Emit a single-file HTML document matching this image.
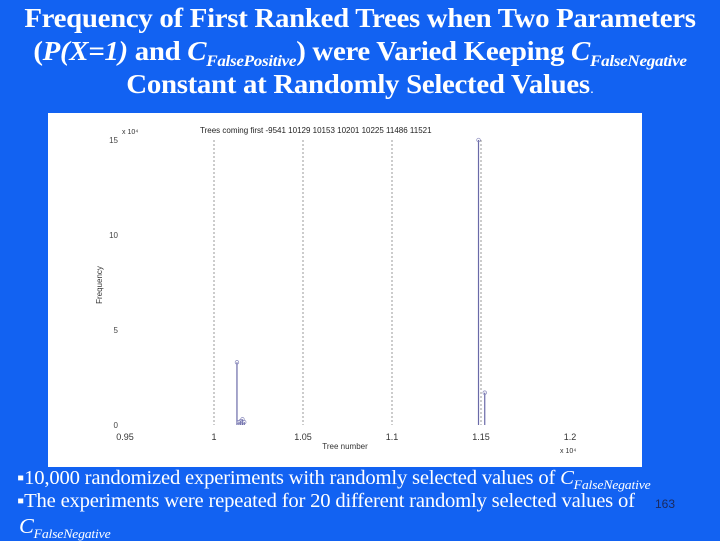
<!DOCTYPE html>
<html><head><meta charset="utf-8">
<style>
body{margin:0;width:720px;height:540px;background:#1262f2;overflow:hidden;position:relative;font-family:"Liberation Serif",serif;color:#fff}
.title{position:absolute;left:0;top:2px;width:720px;text-align:center;font-weight:bold;font-size:27px;line-height:33px;white-space:nowrap;letter-spacing:-0.3px;transform:scaleX(1.07);transform-origin:360px 0}
.title sub{font-size:16px;font-style:italic;vertical-align:-6px;line-height:0}
.b{position:absolute;left:17px;font-size:19.5px;white-space:nowrap;letter-spacing:-0.2px;transform:scaleX(1.06);transform-origin:0 0}
.b sub{font-size:13px;font-style:italic;vertical-align:-5px;line-height:0}
</style></head><body>
<div class="title">Frequency of First Ranked Trees when Two Parameters<br>(<i>P(X=1)</i> and <i>C</i><sub>FalsePositive</sub>) were Varied Keeping <i>C</i><sub>FalseNegative</sub><br>Constant at Randomly Selected Values<span style="font-weight:normal;font-family:'Liberation Sans';font-size:14px">.</span></div>
<svg style="position:absolute;left:48px;top:113px" width="594" height="354" viewBox="48 113 594 354" id="chart" font-family="Liberation Sans, sans-serif">
<rect x="48" y="113" width="594" height="354" fill="#fff"/>
</svg>
<div class="b" style="top:468px">&#9642;10,000 randomized experiments with randomly selected values of <i>C</i><sub>FalseNegative</sub></div>
<div class="b" style="top:491px">&#9642;The experiments were repeated for 20 different randomly selected values of</div>
<div class="b" style="top:514px;left:19px"><i style="font-size:21px">C</i><sub>FalseNegative</sub></div>
<div style="position:absolute;left:655px;top:497px;font-family:'Liberation Sans';font-size:12px;color:#1a2a60">163</div>
<script>
const xTicks=[0.95,1,1.05,1.1,1.15,1.2];
const xTickLabels=["0.95","1","1.05","1.1","1.15","1.2"];
const yTicks=[0,5,10,15];
const yTickLabels=["0","5","10","15"];
const firstTrees=[9541,10129,10153,10201,10225,11486,11521];
const treeNums=[10129,10140,10150,10160,10170,11486,11521];
const freqs=[3.3,0.15,0.2,0.3,0.15,15,1.7];
const svg=document.getElementById('chart');
const NS='http://www.w3.org/2000/svg';
const xs=v=>125+(v-0.95)/0.05*89;
const ys=v=>425-v/15*285;
function mk(t,a,txt){const e=document.createElementNS(NS,t);for(const k in a)e.setAttribute(k,a[k]);if(txt!==undefined)e.textContent=txt;svg.appendChild(e);return e;}
xTicks.forEach((v,i)=>{
  if(v>0.95&&v<1.2){const g=mk('line',{x1:xs(v),x2:xs(v),y1:ys(15),y2:ys(0),stroke:'#999','stroke-dasharray':'2,2','stroke-width':1});
  
  }
  const t=mk('text',{x:xs(v),y:440,'font-size':9,'text-anchor':'middle',fill:'#333'},xTickLabels[i]);
  
  
});
yTicks.forEach((v,i)=>{
  const t=mk('text',{x:118,y:ys(v)+3,'font-size':8,'text-anchor':'end',fill:'#444'},yTickLabels[i]);
  
  
});
treeNums.forEach((n,i)=>{
  const x=xs(n/10000);
  const l=mk('line',{x1:x,x2:x,y1:ys(0),y2:ys(freqs[i]),stroke:'#6a6aa8','stroke-width':1.2});
  
  
  const c=mk('circle',{cx:x,cy:ys(freqs[i]),r:1.8,fill:'none',stroke:'#8888bb','stroke-width':0.7});
  
  
});
const tt=mk('text',{x:200,y:133,'font-size':8,fill:'#222'},'Trees coming first -'+firstTrees.join('  '));


const e1=mk('text',{x:122,y:134,'font-size':7,fill:'#333'},'x 10\u2074');


const e2=mk('text',{x:560,y:453,'font-size':7,fill:'#333'},'x 10\u2074');


const xl=mk('text',{x:345,y:449,'font-size':8,'text-anchor':'middle',fill:'#333'},'Tree number');


const yl=mk('text',{x:0,y:0,'font-size':8,'text-anchor':'middle',fill:'#333',transform:'translate(102,285) rotate(-90)'},'Frequency');


</script>
</body></html>
